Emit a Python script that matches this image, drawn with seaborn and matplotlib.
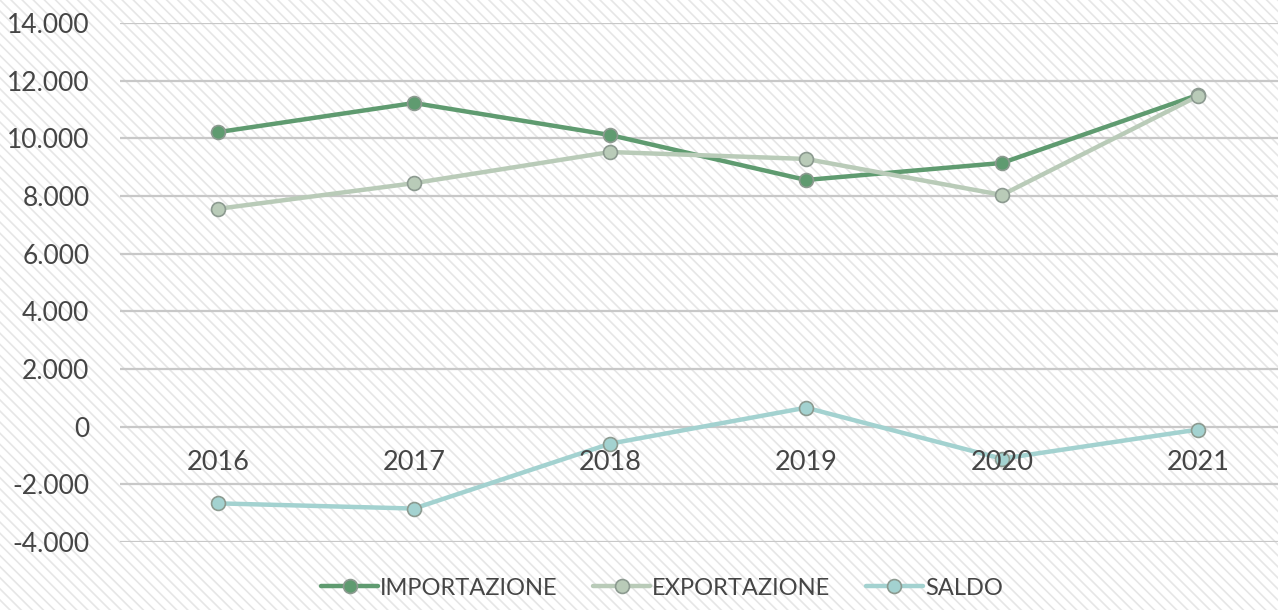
import numpy as np
import pandas as pd
import matplotlib.pyplot as plt
import matplotlib.patches as mpatches
from matplotlib.ticker import FuncFormatter
import seaborn as sns

# values
years = ['2016', '2017', '2018', '2019', '2020', '2021']
importazione = [10220, 11230, 10120, 8560, 9150, 11510]
exportazione = [7560, 8450, 9530, 9290, 8040, 11470]
saldo = [-2660, -2840, -590, 660, -1110, -100]

series_names = ['IMPORTAZIONE', 'EXPORTAZIONE', 'SALDO']
colors = ['#5f9b70', '#b9cbb8', '#a3d2d0']

sns.set_theme(style='white')
plt.rcParams['font.family'] = ['Lato', 'DejaVu Sans']
plt.rcParams['hatch.linewidth'] = 1.2

df = pd.DataFrame({
    'anno': years * 3,
    'valore': importazione + exportazione + saldo,
    'serie': [s for s in series_names for _ in years],
})
df['x'] = df['anno'].map({y: i for i, y in enumerate(years)})

fig = plt.figure(figsize=(12.78, 6.1), dpi=100)
fig.patch.set_facecolor('white')
# diagonal striped background
bg = mpatches.Rectangle((0, 0), 1, 1, transform=fig.transFigure, facecolor='white',
                        edgecolor='#e6e6e6', hatch='\\\\\\', linewidth=0, zorder=-10)
fig.patches.append(bg)

ax = fig.add_axes([0.094, 0.1115, 0.92, 0.8505])
ax.set_facecolor('none')

sns.lineplot(data=df, x='x', y='valore', hue='serie', hue_order=series_names,
             palette=colors, linewidth=3.2, marker='o', markersize=10,
             markeredgecolor='#8c9a90', markeredgewidth=1.2, ax=ax, legend=False, zorder=3)

ax.set_ylim(-4000, 14000)
ax.set_yticks(np.arange(-4000, 14001, 2000))
ax.yaxis.set_major_formatter(FuncFormatter(lambda v, p: f'{v:,.0f}'.replace(',', '.')))
ax.set_xlim(-0.5, 5.5)
ax.set_xticks([])
ax.set_xlabel('')
ax.set_ylabel('')
ax.grid(axis='y', color='#c8c8c8', linewidth=1.6)
ax.set_axisbelow(True)
for s in ax.spines.values():
    s.set_visible(False)
ax.tick_params(axis='y', labelsize=19, labelcolor='#454545', length=0, pad=22)

for i, y in enumerate(years):
    ax.text(i, -1250, y, ha='center', va='center', fontsize=19.5, color='#454545')

handles = [plt.Line2D([], [], color=c, linewidth=3.2, marker='o', markersize=10,
                      markeredgecolor='#8c9a90', markeredgewidth=1.2) for c in colors]
fig.legend(handles, series_names, loc='lower center', bbox_to_anchor=(0.518, -0.016),
           ncol=3, frameon=False, fontsize=17, handlelength=2.4, handletextpad=0.1,
           columnspacing=1.5, labelcolor='#454545')

fig.savefig('out.png', dpi=100)
